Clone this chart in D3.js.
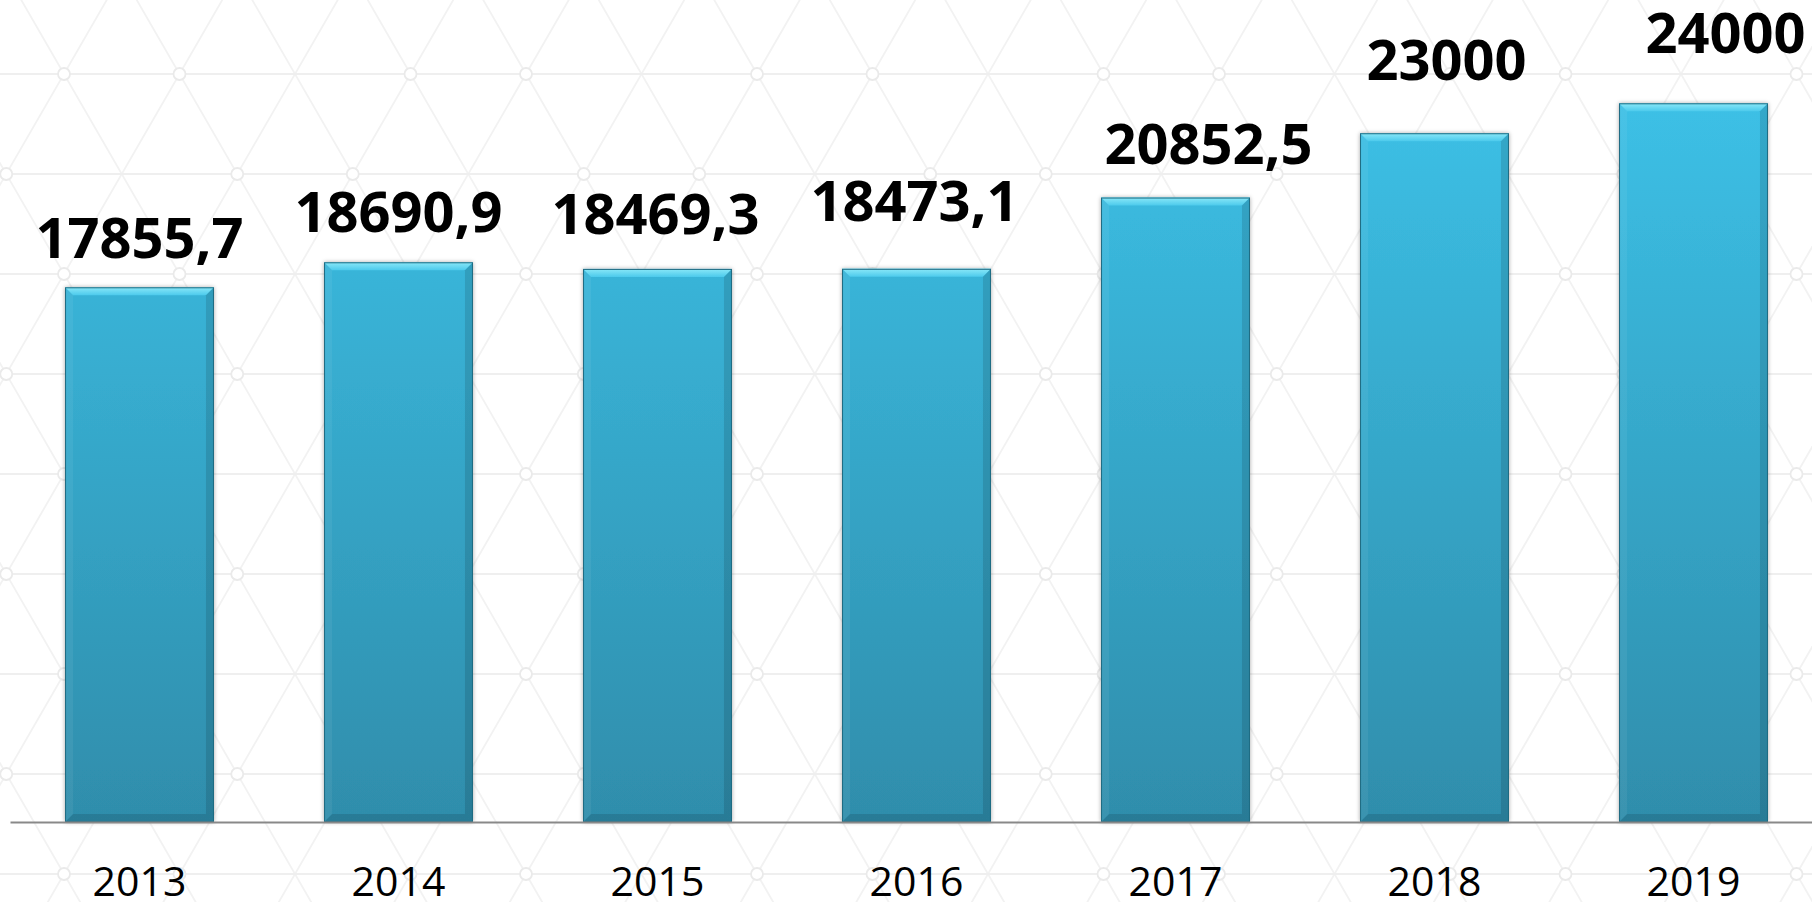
<!DOCTYPE html>
<html><head><meta charset="utf-8">
<script src="https://cdn.jsdelivr.net/npm/d3@7"></script>
<style>html,body{margin:0;padding:0;background:#fff;} svg{display:block}</style>
</head><body><svg id="chart" width="1812" height="902"></svg>
<script>
// ---- data ----
const years = ["2013", "2014", "2015", "2016", "2017", "2018", "2019"];
const values = [17855.7, 18690.9, 18469.3, 18473.1, 20852.5, 23000, 24000];
// manual label nudges (px) as the labels were placed in the original
const labelDx = [0, 0, -2, -2, 33, 12, 32];
const labelDy = [1, 0, -5, -18, -4, -23, -20];

const W = 1812, H = 902;
const svg = d3.select("#chart");

// ---- background lattice pattern (decorative) ----
const bg = svg.append("g").attr("fill", "none");
const s = 115.5, rowH = 100, y0 = 74, x0 = 64;
const slope = s / 2 / rowH; // dx per dy
for (let i = -20; i <= 30; i++) {
  const xi = x0 + i * s;
  bg.append("line").attr("stroke", "#f2f2f2").attr("stroke-width", 1.8)
    .attr("x1", xi + slope * (-20 - y0)).attr("y1", -20)
    .attr("x2", xi + slope * (H + 20 - y0)).attr("y2", H + 20);
  bg.append("line").attr("stroke", "#f2f2f2").attr("stroke-width", 1.8)
    .attr("x1", xi - slope * (-20 - y0)).attr("y1", -20)
    .attr("x2", xi - slope * (H + 20 - y0)).attr("y2", H + 20);
}
for (let k = -1; k <= 9; k++) {
  bg.append("line").attr("stroke", "#efefef").attr("stroke-width", 2)
    .attr("x1", 0).attr("x2", W).attr("y1", y0 + k * rowH).attr("y2", y0 + k * rowH);
}
for (let k = -1; k <= 9; k++) {
  const odd = (((k % 2) + 2) % 2) === 1;
  const off = odd ? -s / 2 : 0;
  for (let j = -2; j <= 20; j++) {
    if (((j % 3) + 3) % 3 === (odd ? 1 : 2)) continue; // hex centres have no ring
    bg.append("circle").attr("cx", x0 + off + j * s).attr("cy", y0 + k * rowH).attr("r", 6)
      .attr("stroke", "#eaeaea").attr("stroke-width", 1.8).attr("fill", "#fff");
  }
}

// ---- scales ----
const x = d3.scaleBand().domain(years).range([10, 1823]).paddingInner(0.425).paddingOuter(0.2125);
const y = d3.scaleLinear().domain([0, 24000]).range([822, 103.3]);

// ---- defs ----
const defs = svg.append("defs");
const g1 = defs.append("linearGradient").attr("id", "barGrad").attr("gradientUnits", "userSpaceOnUse")
  .attr("x1", 0).attr("x2", 0).attr("y1", y(24000)).attr("y2", y(0));
g1.append("stop").attr("offset", "0%").attr("stop-color", "#3cc0e6");
g1.append("stop").attr("offset", "100%").attr("stop-color", "#2f8dab");
const g2 = defs.append("linearGradient").attr("id", "bevTop").attr("x1", 0).attr("x2", 0).attr("y1", 0).attr("y2", 1);
g2.append("stop").attr("offset", "0%").attr("stop-color", "#8ae8f8");
g2.append("stop").attr("offset", "100%").attr("stop-color", "#4ccaec");
const f = defs.append("filter").attr("id", "shadow").attr("x", "-10%").attr("y", "-10%").attr("width", "120%").attr("height", "120%");
f.append("feDropShadow").attr("dx", 0).attr("dy", 0).attr("stdDeviation", 2).attr("flood-color", "#000").attr("flood-opacity", 0.35);

// ---- bars ----
const data = years.map((yr, i) => ({ yr, v: values[i], i }));
const b = 8;
const bars = svg.append("g").selectAll("g").data(data).join("g");
bars.append("rect")
  .attr("x", d => x(d.yr)).attr("y", d => y(d.v))
  .attr("width", x.bandwidth()).attr("height", d => y(0) - y(d.v))
  .attr("fill", "url(#barGrad)").attr("filter", "url(#shadow)");
bars.append("polygon").attr("points", d => {
  const l = x(d.yr), r = l + x.bandwidth(), t = y(d.v);
  return [[l, t], [r, t], [r - b, t + b], [l + b, t + b]].join(" ");
}).attr("fill", "url(#bevTop)");
bars.append("polygon").attr("points", d => {
  const l = x(d.yr), t = y(d.v), bt = y(0);
  return [[l, t], [l + b, t + b], [l + b, bt - b], [l, bt]].join(" ");
}).attr("fill", "#ffffff").attr("opacity", 0.06);
bars.append("polygon").attr("points", d => {
  const r = x(d.yr) + x.bandwidth(), t = y(d.v), bt = y(0);
  return [[r, t], [r - b, t + b], [r - b, bt - b], [r, bt]].join(" ");
}).attr("fill", "#000").attr("opacity", 0.12);
bars.append("polygon").attr("points", d => {
  const l = x(d.yr), r = l + x.bandwidth(), bt = y(0);
  return [[l, bt], [l + b, bt - b], [r - b, bt - b], [r, bt]].join(" ");
}).attr("fill", "#000").attr("opacity", 0.12);
bars.append("rect")
  .attr("x", d => x(d.yr) + 0.5).attr("y", d => y(d.v) + 0.5)
  .attr("width", x.bandwidth() - 1).attr("height", d => y(0) - y(d.v) - 1)
  .attr("fill", "none").attr("stroke", "#1f6b82").attr("stroke-width", 1);

// ---- value labels ----
const fmt = d3.formatLocale({ decimal: ",", thousands: "", grouping: [3], currency: ["", ""] }).format("~f");
svg.append("g").selectAll("text").data(data).join("text")
  .attr("x", d => x(d.yr) + x.bandwidth() / 2 + labelDx[d.i])
  .attr("y", d => y(d.v) - 30 + labelDy[d.i])
  .attr("text-anchor", "middle")
  .attr("font-family", "'Open Sans', sans-serif").attr("font-weight", 700).attr("font-size", 56)
  .attr("fill", "#000")
  .text(d => fmt(d.v));

// ---- x axis ----
const ax = svg.append("g").attr("transform", `translate(0,${y(0)})`)
  .call(d3.axisBottom(x).tickSize(0).tickSizeOuter(0));
ax.select(".domain").attr("stroke", "#898989").attr("stroke-width", 2);
ax.selectAll(".tick text")
  .attr("y", 74).attr("dy", 0)
  .attr("font-family", "'Open Sans', sans-serif").attr("font-size", 41).attr("fill", "#000");
</script></body></html>
